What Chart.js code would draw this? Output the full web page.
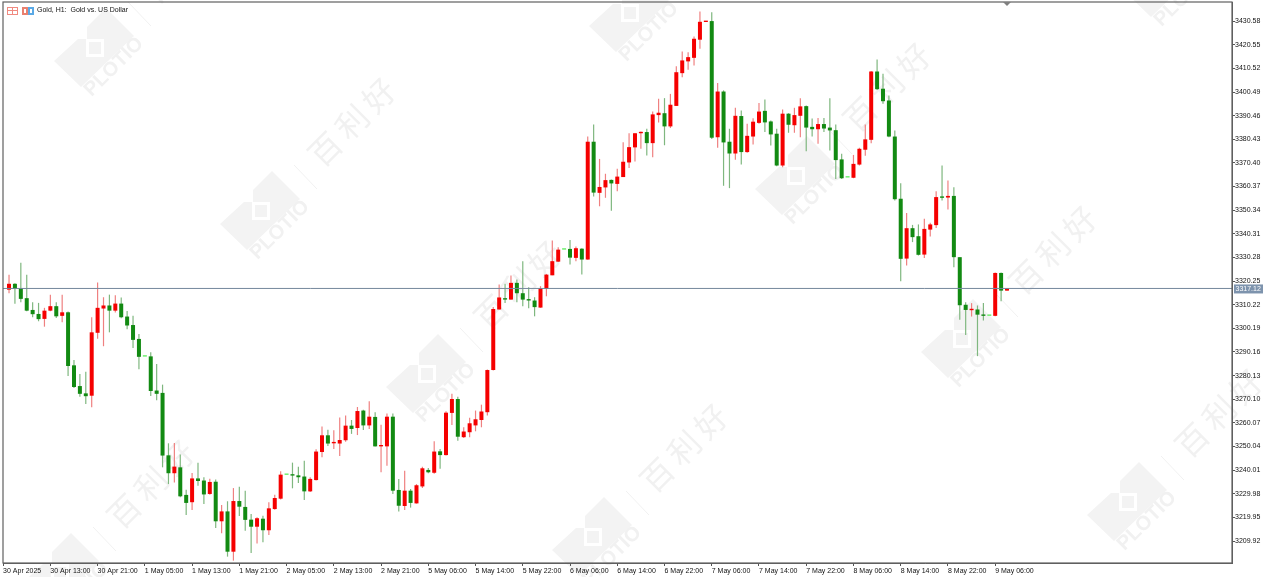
<!DOCTYPE html>
<html>
<head>
<meta charset="utf-8">
<title>Gold, H1</title>
<script src="https://cdn.jsdelivr.net/npm/chart.js@4"></script>
<style>
  html, body { margin: 0; padding: 0; background: #fff; }
  canvas { display: block; filter: blur(0.35px); }
</style>
</head>
<body>
<canvas id="myChart" width="1270" height="577"></canvas>
<script>
// hourly candles
const opens = [
  3316.6,3319.1,3317.1,3313.0,3308.0,3306.3,3304.2,3307.7,3309.6,3305.5,
  3307.0,3284.5,3275.7,3272.6,3271.6,3298.3,3308.6,3309.9,3307.7,3310.7,
  3305.2,3301.6,3295.7,3288.2,3288.3,3273.8,3272.8,3246.3,3238.7,3241.2,
  3229.5,3226.4,3236.5,3235.6,3229.9,3235.1,3218.3,3222.5,3205.4,3226.9,
  3224.4,3219.0,3216.0,3219.4,3214.5,3223.5,3227.9,3238.0,3238.0,3237.8,
  3237.3,3231.0,3235.8,3247.7,3254.8,3251.4,3251.3,3252.7,3258.9,3257.9,
  3265.3,3259.0,3262.6,3250.1,3250.1,3262.7,3231.6,3224.8,3231.3,3225.9,
  3233.1,3240.1,3238.9,3248.0,3246.4,3264.3,3270.2,3254.0,3256.1,3259.0,
  3261.3,3264.6,3282.5,3308.2,3312.7,3312.4,3319.5,3315.1,3312.6,3312.0,
  3309.0,3316.9,3322.7,3328.5,3333.6,3333.9,3330.1,3334.0,3329.4,3379.4,
  3357.7,3360.0,3363.2,3361.5,3364.4,3370.6,3377.0,3383.0,3383.5,3378.8,
  3390.7,3391.5,3385.9,3394.6,3408.5,3413.5,3415.0,3422.7,3430.2,3430.6,
  3381.3,3400.7,3379.4,3374.4,3390.3,3375.0,3381.6,3387.4,3392.5,3388.0,
  3382.8,3369.3,3391.3,3386.4,3390.4,3394.5,3385.7,3384.7,3386.9,3385.4,
  3384.3,3371.9,3364.2,3364.1,3369.7,3376.0,3380.2,3409.2,3401.9,3396.9,
  3381.6,3355.2,3329.8,3342.7,3339.3,3331.5,3342.1,3344.0,3356.0,3355.7,
  3356.4,3330.4,3310.2,3307.9,3308.2,3306.0,3305.5,3305.5,3323.7,3316.2
];
const highs = [
  3322.9,3319.3,3328.0,3322.9,3311.3,3311.0,3308.9,3314.5,3311.3,3314.5,
  3307.3,3286.8,3280.8,3281.8,3304.9,3319.6,3313.4,3314.5,3314.2,3313.3,
  3307.6,3305.5,3297.8,3288.2,3290.0,3285.1,3276.3,3251.4,3251.5,3246.6,
  3231.7,3238.8,3243.2,3237.0,3236.4,3236.0,3225.2,3226.8,3232.4,3233.0,
  3231.3,3221.4,3220.0,3220.7,3226.4,3229.6,3239.5,3238.0,3243.2,3241.5,
  3244.0,3237.0,3248.9,3258.5,3257.2,3256.9,3262.4,3263.2,3261.3,3266.8,
  3265.6,3269.2,3264.6,3259.3,3264.1,3264.1,3236.3,3239.8,3232.0,3234.1,
  3241.5,3240.9,3252.3,3249.0,3265.0,3272.4,3271.2,3258.2,3262.2,3265.3,
  3267.8,3282.7,3309.2,3318.8,3319.1,3322.6,3320.9,3328.7,3317.6,3313.4,
  3318.1,3323.3,3337.5,3334.6,3333.6,3337.7,3334.9,3334.2,3381.6,3386.7,
  3372.1,3365.8,3363.4,3367.9,3379.2,3383.0,3383.0,3383.7,3384.9,3392.2,
  3397.6,3397.9,3399.7,3411.4,3417.7,3417.4,3424.1,3434.7,3430.3,3434.3,
  3404.3,3401.2,3384.9,3393.8,3392.7,3387.0,3389.4,3395.8,3397.3,3388.4,
  3384.9,3393.1,3391.5,3393.8,3397.9,3394.8,3389.3,3389.5,3389.5,3397.9,
  3386.7,3374.3,3364.2,3373.8,3376.8,3386.7,3409.4,3414.3,3408.2,3399.0,
  3384.2,3361.8,3349.2,3344.1,3344.3,3346.7,3345.0,3358.4,3369.3,3362.9,
  3360.1,3330.4,3311.3,3310.9,3309.9,3310.9,3305.5,3323.9,3323.9,3317.12
];
const lows = [
  3315.1,3310.6,3311.3,3307.5,3304.9,3303.2,3300.9,3307.5,3304.6,3302.8,
  3280.0,3274.9,3271.2,3268.1,3266.7,3295.8,3292.6,3298.5,3306.9,3304.5,
  3299.8,3291.9,3282.8,3288.2,3271.5,3269.7,3241.2,3234.1,3234.8,3228.5,
  3221.0,3223.1,3233.4,3225.6,3229.6,3215.5,3213.2,3203.3,3201.6,3220.5,
  3214.3,3204.8,3208.9,3209.4,3212.5,3223.2,3227.6,3238.0,3232.3,3234.6,
  3227.3,3230.7,3235.6,3245.5,3250.3,3249.0,3246.0,3252.1,3255.4,3254.9,
  3257.1,3257.5,3250.0,3239.1,3241.9,3229.9,3222.5,3223.1,3224.1,3225.8,
  3232.4,3238.7,3238.5,3240.6,3246.2,3259.2,3252.5,3253.7,3254.0,3256.5,
  3258.2,3263.2,3282.3,3308.2,3310.9,3312.3,3311.3,3309.6,3308.7,3305.3,
  3308.9,3313.8,3322.7,3328.3,3333.6,3327.3,3328.7,3323.0,3329.3,3356.1,
  3352.0,3355.6,3350.1,3358.4,3364.4,3368.2,3371.0,3376.4,3373.6,3372.8,
  3387.6,3377.9,3385.2,3394.6,3406.8,3409.9,3411.8,3418.9,3430.2,3380.6,
  3376.8,3360.7,3359.7,3371.7,3369.7,3374.7,3378.2,3387.0,3383.5,3377.8,
  3369.0,3368.6,3383.2,3383.2,3381.3,3375.4,3381.6,3378.5,3383.5,3375.7,
  3363.6,3363.6,3364.2,3363.9,3369.3,3373.4,3378.8,3401.4,3395.5,3381.3,
  3354.5,3320.2,3326.9,3336.8,3331.1,3330.1,3339.2,3342.8,3354.5,3350.6,
  3326.1,3303.8,3297.4,3305.2,3288.4,3303.5,3305.5,3305.3,3311.7,3316.2
];
const closes = [
  3319.1,3316.9,3312.7,3307.7,3306.2,3304.1,3307.7,3309.6,3305.3,3307.0,
  3284.2,3275.3,3272.4,3271.4,3298.5,3308.9,3309.9,3307.7,3310.7,3304.9,
  3301.4,3295.3,3288.1,3288.2,3273.6,3272.4,3246.2,3238.7,3241.5,3228.9,
  3226.1,3236.5,3235.4,3229.7,3235.0,3218.3,3222.5,3205.4,3226.9,3224.5,
  3218.9,3216.0,3219.6,3214.5,3223.8,3228.2,3238.1,3238.0,3237.7,3237.0,
  3231.0,3236.3,3247.9,3254.8,3251.3,3251.7,3252.8,3258.9,3257.5,3265.1,
  3259.0,3262.7,3250.1,3250.4,3262.7,3231.3,3224.9,3231.3,3226.1,3233.6,
  3240.8,3239.1,3247.9,3246.4,3264.4,3270.2,3254.2,3256.4,3259.9,3261.6,
  3264.9,3282.5,3308.4,3313.3,3312.4,3319.5,3315.1,3312.4,3312.0,3309.2,
  3317.2,3323.0,3328.7,3333.6,3333.6,3330.2,3334.2,3329.4,3379.4,3357.8,
  3360.2,3363.1,3361.7,3364.6,3370.9,3377.1,3383.0,3383.5,3378.8,3391.0,
  3391.7,3385.9,3395.1,3408.9,3413.9,3415.3,3423.1,3430.3,3430.3,3381.1,
  3400.7,3379.1,3374.4,3390.4,3375.0,3381.9,3387.9,3392.2,3387.6,3382.5,
  3369.3,3391.3,3386.6,3390.7,3394.4,3385.4,3384.7,3386.9,3385.0,3384.2,
  3371.6,3363.9,3364.2,3370.0,3376.4,3380.4,3409.2,3401.7,3396.6,3381.6,
  3355.0,3329.7,3342.7,3338.9,3331.4,3342.4,3344.3,3355.9,3355.6,3356.4,
  3330.4,3310.0,3308.0,3308.3,3306.0,3305.5,3305.5,3323.7,3316.2,3317.12
];

// axis labels
const priceTicks = [3430.58,3420.55,3410.52,3400.49,3390.46,3380.43,3370.40,3360.37,3350.34,3340.31,3330.28,3320.25,
  3310.22,3300.19,3290.16,3280.13,3270.10,3260.07,3250.04,3240.01,3229.98,3219.95,3209.92];
const timeLabels = ['30 Apr 2025','30 Apr 13:00','30 Apr 21:00','1 May 05:00','1 May 13:00','1 May 21:00',
  '2 May 05:00','2 May 13:00','2 May 21:00','5 May 06:00','5 May 14:00','5 May 22:00','6 May 06:00','6 May 14:00',
  '6 May 22:00','7 May 06:00','7 May 14:00','7 May 22:00','8 May 06:00','8 May 14:00','8 May 22:00','9 May 06:00'];
const lastPrice = 3317.12;
const chartTitle = 'Gold, H1:  Gold vs. US Dollar';

const UP = '#f50000', DOWN = '#128a12', FLAT = '#66ee66';
const UP_WICK = '#ef8080', DOWN_WICK = '#7fb77f';
const AXIS_FONT = '"Liberation Sans", Arial, sans-serif';

// one time tick every 8 bars, the first sits one bar before the data
const TICK_START = -1, TICK_STEP = 8;
const X_MIN = -1.02, X_MAX = 207.1;

const bars = opens.map((o, i) => i);
const bodyColors = bars.map(i => closes[i] > opens[i] ? UP : closes[i] < opens[i] ? DOWN : FLAT);
const wickColors = bars.map(i => closes[i] >= opens[i] ? UP_WICK : DOWN_WICK);

// the faint logo is repeated on a slanted grid
const logoCenters = [[101,44],[267,207],[433,370],[599,533],[636,9],[802,172],[968,335],[1134,498],[1171,-26],[66,569]];

const LOGO_SHAPE = [[5,-36],[33,-8],[-20,43],[-47,17],[-23,-5],[-14,-5],[-14,-17]];

function drawLogo(ctx, cx, cy) {
  ctx.save();
  ctx.translate(cx, cy);
  ctx.fillStyle = '#f3f3f3';
  ctx.beginPath();
  LOGO_SHAPE.forEach((p, k) => k ? ctx.lineTo(p[0], p[1]) : ctx.moveTo(p[0], p[1]));
  ctx.closePath();
  ctx.fill();
  ctx.strokeStyle = '#ffffff';
  ctx.lineWidth = 3;
  ctx.strokeRect(-13.5, -3.5, 15, 15);

  ctx.strokeStyle = '#f1f1f1';
  ctx.lineWidth = 1;
  ctx.beginPath();
  ctx.moveTo(27, -42);
  ctx.lineTo(50, -18);
  ctx.stroke();

  ctx.save();
  ctx.translate(13, 23);
  ctx.rotate(-Math.PI / 4);
  ctx.font = 'bold 20px "Liberation Sans", Arial, sans-serif';
  ctx.textAlign = 'center';
  ctx.textBaseline = 'middle';
  ctx.fillStyle = '#f1f1f1';
  ctx.fillText('PLOTIO', 0, 0);
  ctx.restore();

  ctx.save();
  ctx.translate(87, -87);
  ctx.rotate(-Math.PI / 4);
  ctx.font = '32px "Noto Sans CJK SC", sans-serif';
  ctx.letterSpacing = '6px';
  ctx.textAlign = 'center';
  ctx.textBaseline = 'middle';
  ctx.fillStyle = '#f1f1f1';
  ctx.fillText('百利好', 0, 0);
  ctx.restore();
  ctx.restore();
}

const watermark = {
  id: 'watermark',
  beforeDraw(chart) {
    logoCenters.forEach(c => drawLogo(chart.ctx, c[0], c[1]));
  }
};

const chrome = {
  id: 'chrome',
  afterDraw(chart) {
    const { ctx, chartArea: a, scales } = chart;
    ctx.save();

    // frame
    ctx.strokeStyle = '#606060';
    ctx.lineWidth = 1.2;
    ctx.strokeRect(a.left, a.top, a.right - a.left, a.bottom - a.top);

    // title and the two small icons
    ctx.fillStyle = '#f08a80';
    ctx.fillRect(7, 7, 11, 8);
    ctx.fillStyle = '#ffffff';
    ctx.fillRect(8, 8, 4, 2); ctx.fillRect(13, 8, 4, 2);
    ctx.fillRect(8, 11, 4, 3); ctx.fillRect(13, 11, 4, 3);
    ctx.fillStyle = '#e9806f';
    ctx.fillRect(22, 7, 6, 8);
    ctx.fillStyle = '#5aa9e6';
    ctx.fillRect(28, 7, 6, 8);
    ctx.fillStyle = '#ffffff';
    ctx.fillRect(24, 9, 2, 4); ctx.fillRect(30, 9, 2, 4);

    ctx.font = '7px ' + AXIS_FONT;
    ctx.fillStyle = '#111';
    ctx.textAlign = 'left';
    ctx.textBaseline = 'middle';
    ctx.fillText(chartTitle, 37, 10.5);

    // small marker on the top edge, over the last bar
    const mx = scales.x.getPixelForValue(opens.length - 1);
    ctx.fillStyle = '#808080';
    ctx.beginPath();
    ctx.moveTo(mx - 4, a.top);
    ctx.lineTo(mx + 4, a.top);
    ctx.lineTo(mx, a.top + 4);
    ctx.closePath();
    ctx.fill();

    // current price tag
    const py = scales.y.getPixelForValue(lastPrice);
    ctx.fillStyle = '#7d93ad';
    ctx.fillRect(a.right + 2, py - 4, 29, 9);
    ctx.fillStyle = '#ffffff';
    ctx.fillText(lastPrice.toFixed(2), a.right + 3.5, py + 0.8);
    ctx.restore();
  }
};

const myChart = new Chart(document.getElementById('myChart'), {
  data: {
    datasets: [
      {
        type: 'line',
        data: [{ x: X_MIN, y: lastPrice }, { x: X_MAX, y: lastPrice }],
        borderColor: '#74879c',
        borderWidth: 1,
        pointRadius: 0,
        order: 0
      },
      {
        type: 'bar',
        data: bars.map(i => ({ x: i, y: [opens[i], closes[i]] })),
        backgroundColor: bodyColors,
        barThickness: 4,
        inflateAmount: 0,
        minBarLength: 1.4,
        grouped: false,
        order: 1
      },
      {
        type: 'bar',
        data: bars.map(i => ({ x: i, y: [lows[i], highs[i]] })),
        backgroundColor: wickColors,
        barThickness: 1.2,
        inflateAmount: 0,
        grouped: false,
        order: 2
      }
    ]
  },
  plugins: [watermark, chrome],
  options: {
    responsive: false,
    animation: false,
    events: [],
    layout: { padding: { left: 3, top: 2, right: 0, bottom: 0 } },
    plugins: { legend: { display: false }, tooltip: { enabled: false }, title: { display: false } },
    scales: {
      x: {
        type: 'linear',
        offset: false,
        min: X_MIN,
        max: X_MAX,
        afterBuildTicks(scale) {
          scale.ticks = timeLabels.map((t, k) => ({ value: TICK_START + k * TICK_STEP }));
        },
        afterFit(scale) {
          scale.height = 14;
          scale.paddingLeft = 0;
          scale.paddingRight = 0;
        },
        grid: { offset: false, drawOnChartArea: false, tickLength: 3, color: '#555' },
        border: { color: '#606060' },
        ticks: {
          autoSkip: false,
          maxRotation: 0,
          align: 'start',
          padding: 1,
          color: '#111',
          font: { family: AXIS_FONT, size: 7 },
          callback: v => timeLabels[Math.round((v - TICK_START) / TICK_STEP)]
        }
      },
      y: {
        type: 'linear',
        position: 'right',
        min: 3200.6,
        max: 3438.7,
        afterBuildTicks(scale) {
          scale.ticks = priceTicks.map(v => ({ value: v }));
        },
        afterFit(scale) {
          scale.width = 38;
          scale.paddingTop = 0;
          scale.paddingBottom = 0;
        },
        grid: { drawOnChartArea: false, tickLength: 3, color: '#555' },
        border: { color: '#606060' },
        ticks: {
          autoSkip: false,
          padding: 0,
          color: '#111',
          font: { family: AXIS_FONT, size: 7 },
          callback: v => v.toFixed(2)
        }
      }
    }
  }
});
</script>
</body>
</html>
